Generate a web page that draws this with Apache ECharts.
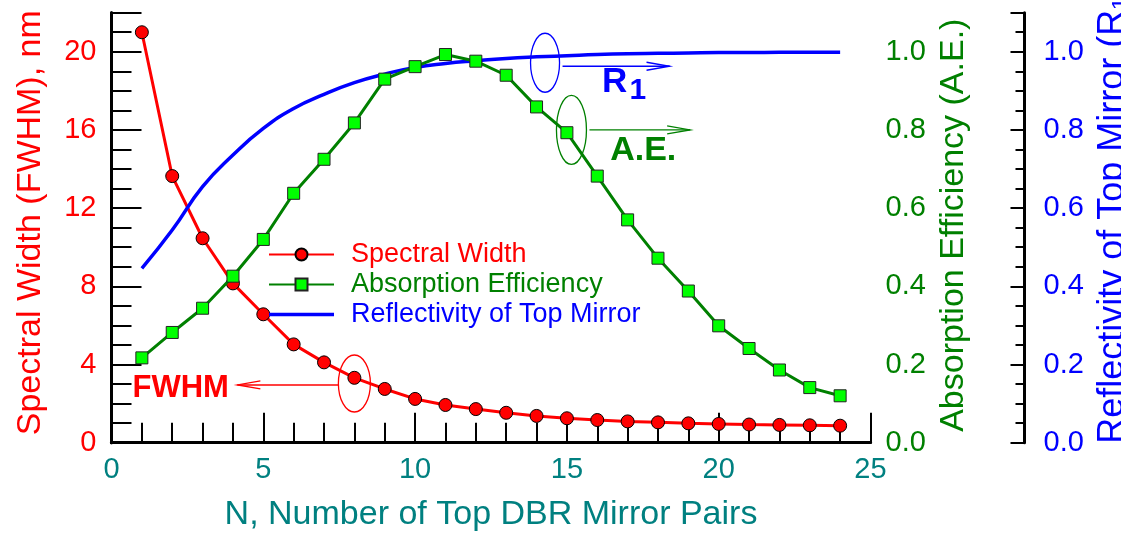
<!DOCTYPE html>
<html>
<head>
<meta charset="utf-8">
<script src="https://cdn.jsdelivr.net/npm/echarts@6/dist/echarts.min.js"></script>
<style>
html,body{margin:0;padding:0;background:#ffffff;}
#c{width:1121px;height:533px;}
</style>
</head>
<body>
<div id="c"></div>
<script>
// ---- data ----
const pairs = [1,2,3,4,5,6,7,8,9,10,11,12,13,14,15,16,17,18,19,20,21,22,23,24];
const spectralWidth = [21.0,13.64,10.46,8.15,6.57,5.03,4.11,3.32,2.75,2.24,1.93,1.72,1.53,1.37,1.25,1.16,1.09,1.04,0.99,0.96,0.93,0.91,0.89,0.87];
const absorptionEfficiency = [0.217,0.282,0.344,0.426,0.520,0.638,0.725,0.818,0.930,0.962,0.993,0.976,0.940,0.859,0.793,0.682,0.570,0.472,0.388,0.299,0.241,0.186,0.141,0.120];
const reflectivity = [0.446,0.544,0.655,0.736,0.804,0.855,0.891,0.921,0.943,0.960,0.970,0.977,0.983,0.987,0.990,0.993,0.995,0.996,0.997,0.998,0.998,0.999,0.999,0.999];

const xRange = [0, 25];      const xMajor = 5;      const xMinor = 1;
const leftRange = [0, 22];   const leftMajor = 4;   const leftMinor = 1;
const rightRange = [0, 1.1]; const rightMajor = 0.2; const rightMinor = 0.05;

const xTitle = 'N, Number of Top DBR Mirror Pairs';
const leftTitle = 'Spectral Width (FWHM), nm';
const greenTitle = 'Absorption Efficiency (A.E.)';
const blueTitle = 'Reflectivity of Top Mirror (R\u2081)';
const seriesNames = ['Spectral Width', 'Absorption Efficiency', 'Reflectivity of Top Mirror'];

// annotation anchors in data units
const annoR1 = [14.28, 0.972];
const annoAE = [15.15, 0.800];
const annoFWHM = [8.0, 3.03];

// ---- styling ----
const FONT = '"Liberation Sans", Arial, Helvetica, sans-serif';
const RED = '#ff0000', GREEN = '#008000', LIME = '#00ff00', BLUE = '#0000ff', TEAL = '#008080';
const MAJOR_LEN = 15, MINOR_LEN = 10;
const BLUE_OFFSET = 154;

function isMult(v, step) { const k = v / step; return Math.abs(k - Math.round(k)) < 1e-6; }
function zip(xs, ys) { return xs.map((x, i) => [x, ys[i]]); }

// Tick-only axis: shifted into the plot by its tick length, ticks pointing outward,
// so the ticks end on the frame line and point into the plot.
function tickAxis(position, range, interval, len, baseOffset) {
  return {
    type: 'value', position: position, offset: (baseOffset || 0) - len,
    min: range[0], max: range[1], interval: interval,
    axisLine: { show: false },
    axisTick: { show: true, inside: false, length: len, lineStyle: { color: '#000', width: 2 } },
    axisLabel: { show: false },
    splitLine: { show: false }
  };
}

const option = {
  animation: false,
  backgroundColor: '#ffffff',
  textStyle: { fontFamily: FONT },
  grid: { left: 111.5, right: 250.5, top: 12.7, bottom: 90.3, containLabel: false, outerBoundsMode: 'none' },
  legend: {
    orient: 'vertical',
    left: 268,
    top: 241,
    padding: 0,
    itemGap: 3,
    itemWidth: 65,
    itemHeight: 15,
    textStyle: { fontSize: 27, fontFamily: FONT, padding: [0, 0, 0, 12] },
    data: [
      { name: seriesNames[0], textStyle: { color: RED } },
      { name: seriesNames[1], textStyle: { color: GREEN } },
      { name: seriesNames[2], textStyle: { color: BLUE }, icon: 'path://M0,0L65,0L65,3.5L0,3.5Z' }
    ]
  },
  xAxis: [
    {
      type: 'value', position: 'bottom', min: xRange[0], max: xRange[1], interval: xMajor,
      axisLine: { show: true, lineStyle: { color: '#000', width: 3 } },
      axisTick: { show: false },
      axisLabel: { color: TEAL, fontSize: 29, margin: 13, fontFamily: FONT },
      splitLine: { show: false },
      name: xTitle, nameLocation: 'middle', nameGap: 55,
      nameTextStyle: { color: TEAL, fontSize: 34, fontFamily: FONT }
    },
    tickAxis('bottom', xRange, xMajor, MAJOR_LEN),
    tickAxis('bottom', xRange, xMinor, MINOR_LEN),
    {
      type: 'value', position: 'top', min: xRange[0], max: xRange[1], interval: xMajor,
      axisLine: { show: true, lineStyle: { color: '#000', width: 3 } },
      axisTick: { show: false }, axisLabel: { show: false }, splitLine: { show: false }
    },
    tickAxis('top', xRange, xMajor, MAJOR_LEN),
    tickAxis('top', xRange, xMinor, MINOR_LEN)
  ],
  yAxis: [
    {
      type: 'value', position: 'left', min: leftRange[0], max: leftRange[1], interval: leftMajor,
      axisLine: { show: true, lineStyle: { color: '#000', width: 3 } },
      axisTick: { show: false },
      axisLabel: { color: RED, fontSize: 29, margin: 15, fontFamily: FONT,
        formatter: v => isMult(v, leftMajor) ? String(Math.round(v)) : '' },
      splitLine: { show: false },
      name: leftTitle, nameLocation: 'middle', nameGap: 64,
      nameTextStyle: { color: RED, fontSize: 34, fontFamily: FONT, padding: [0, 0, 0, 10] }
    },
    tickAxis('left', leftRange, leftMajor, MAJOR_LEN),
    tickAxis('left', leftRange, leftMinor, MINOR_LEN),
    {
      type: 'value', position: 'right', min: rightRange[0], max: rightRange[1], interval: rightMajor,
      axisLine: { show: true, lineStyle: { color: '#000', width: 3 } },
      axisTick: { show: false },
      axisLabel: { color: GREEN, fontSize: 29, margin: 15, fontFamily: FONT,
        formatter: v => isMult(v, rightMajor) ? v.toFixed(1) : '' },
      splitLine: { show: false },
      name: greenTitle, nameLocation: 'middle', nameGap: 43,
      nameTextStyle: { color: GREEN, fontSize: 34, fontFamily: FONT, padding: [0, 0, 0, 5] }
    },
    tickAxis('right', rightRange, rightMajor, MAJOR_LEN),
    tickAxis('right', rightRange, rightMinor, MINOR_LEN),
    {
      type: 'value', position: 'right', offset: BLUE_OFFSET, min: rightRange[0], max: rightRange[1], interval: rightMajor,
      axisLine: { show: true, lineStyle: { color: '#000', width: 3 } },
      axisTick: { show: false },
      axisLabel: { color: BLUE, fontSize: 29, margin: 19, fontFamily: FONT,
        formatter: v => isMult(v, rightMajor) ? v.toFixed(1) : '' },
      splitLine: { show: false },
      name: blueTitle, nameLocation: 'middle', nameGap: 48,
      nameTextStyle: { color: BLUE, fontSize: 36, fontFamily: FONT, padding: [0, 0, 0, 26] }
    },
    tickAxis('right', rightRange, rightMajor, 14, BLUE_OFFSET),
    tickAxis('right', rightRange, rightMinor, 9, BLUE_OFFSET)
  ],
  series: [
    {
      name: seriesNames[0], type: 'line', xAxisIndex: 0, yAxisIndex: 0,
      data: zip(pairs, spectralWidth),
      symbol: 'circle', symbolSize: 13,
      itemStyle: { color: RED, borderColor: '#000', borderWidth: 1 },
      lineStyle: { color: RED, width: 3 },
      z: 3
    },
    {
      name: seriesNames[2], type: 'line', xAxisIndex: 0, yAxisIndex: 6,
      data: zip(pairs, reflectivity),
      smooth: true, symbol: 'none',
      itemStyle: { color: BLUE },
      lineStyle: { color: BLUE, width: 3.5 },
      z: 4
    },
    {
      name: seriesNames[1], type: 'line', xAxisIndex: 0, yAxisIndex: 3,
      data: zip(pairs, absorptionEfficiency),
      symbol: 'rect', symbolSize: 12,
      itemStyle: { color: LIME, borderColor: '#222', borderWidth: 1 },
      lineStyle: { color: GREEN, width: 3 },
      z: 5
    }
  ]
};

const chart = echarts.init(document.getElementById('c'), null, { renderer: 'canvas' });
chart.setOption(option);

// ---- annotations positioned through the library's scales ----
function toPx(seriesIndex, pt) { return chart.convertToPixel({ seriesIndex: seriesIndex }, pt); }

function arrowGroup(x1, x2, y, color) {
  const dir = x2 > x1 ? 1 : -1;
  return [
    { type: 'line', shape: { x1: x1, y1: y, x2: x2, y2: y }, style: { stroke: color, lineWidth: 1.3 }, silent: true, z: 10 },
    { type: 'polyline', shape: { points: [[x2 - dir * 23, y - 4], [x2, y], [x2 - dir * 23, y + 4]] },
      style: { stroke: color, lineWidth: 1.3, fill: null }, silent: true, z: 10 }
  ];
}
function ell(c, rx, ry, color) {
  return { type: 'ellipse', shape: { cx: c[0], cy: c[1], rx: rx, ry: ry },
    style: { fill: null, stroke: color, lineWidth: 1.3 }, silent: true, z: 10 };
}
function txt(x, y, s, color, size, align) {
  return { type: 'text', x: x, y: y, silent: true, z: 10,
    style: { text: s, fill: color, fontSize: size, fontWeight: 'bold', fontFamily: FONT,
      align: align || 'left', verticalAlign: 'middle' } };
}

const pR = toPx(1, annoR1);
const pA = toPx(2, annoAE);
const pF = toPx(0, annoFWHM);

const elements = [];
elements.push(ell(pR, 14.5, 29.5, BLUE));
elements.push(...arrowGroup(pR[0] + 17.5, pR[0] + 124.5, pR[1] + 3.5, BLUE));
elements.push(txt(pR[0] + 57, pR[1] + 20, 'R', BLUE, 35));
elements.push(txt(pR[0] + 84.5, pR[1] + 28, '1', BLUE, 30));

elements.push(ell(pA, 15, 34.5, GREEN));
elements.push(...arrowGroup(pA[0] + 18, pA[0] + 118.7, pA[1], GREEN));
elements.push(txt(pA[0] + 38.7, pA[1] + 21, 'A.E.', GREEN, 34));

elements.push(ell(pF, 16, 28.5, RED));
elements.push(...arrowGroup(pF[0] - 16, pF[0] - 117, pF[1] + 1.5, RED));
elements.push(txt(pF[0] - 125.5, pF[1] + 5, 'FWHM', RED, 31, 'right'));

chart.setOption({ graphic: { elements: elements } });
</script>
</body>
</html>
